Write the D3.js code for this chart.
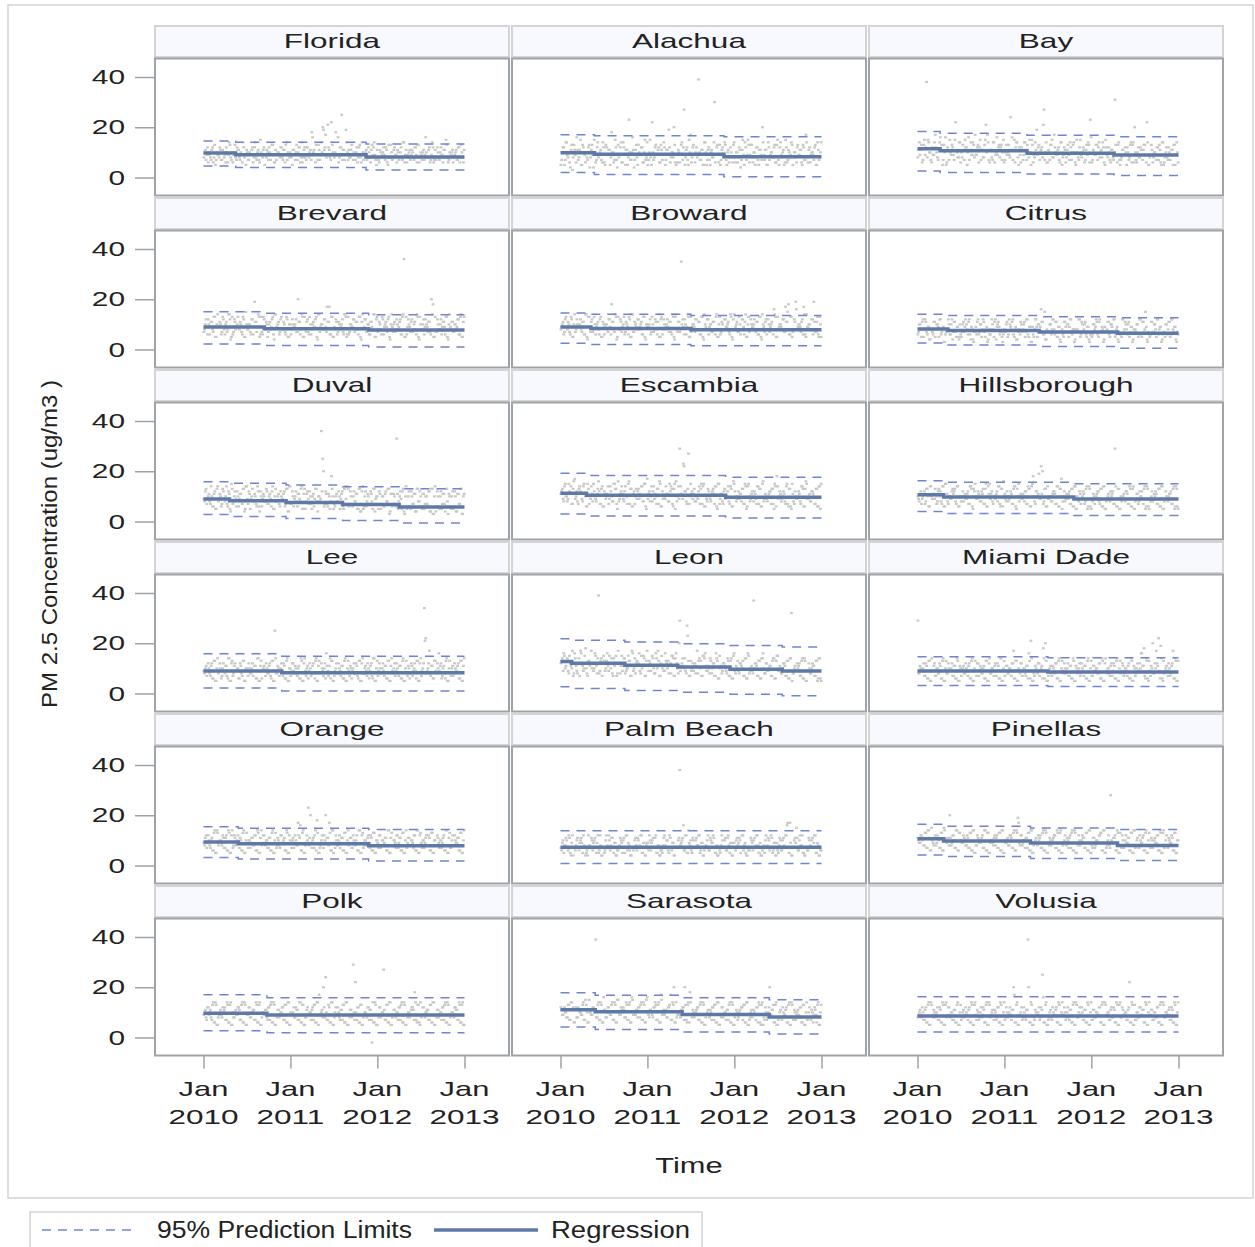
<!DOCTYPE html>
<html>
<head>
<meta charset="utf-8">
<script src="https://cdn.jsdelivr.net/npm/d3@7"></script>
<style>
  body { margin: 0; background: #fff; }
  text { font-family: "Liberation Sans", Arial, sans-serif; fill: #222; }
</style>
</head>
<body>
<svg id="chart" width="1255" height="1247"></svg>
<script>
// =============================
// PM 2.5 by county, 2010-2012
// =============================

const counties = [
    "Florida", "Alachua", "Bay",
    "Brevard", "Broward", "Citrus",
    "Duval", "Escambia", "Hillsborough",
    "Lee", "Leon", "Miami Dade",
    "Orange", "Palm Beach", "Pinellas",
    "Polk", "Sarasota", "Volusia"
];

// step changes of the fitted line (fractional years)
const regBreaks = [
    [2010.0, 2010.37, 2011.87, 2013.0],
    [2010.0, 2010.39, 2011.88, 2013.0],
    [2010.0, 2010.26, 2011.26, 2012.26, 2013.0],
    [2010.0, 2010.7, 2011.9, 2013.0],
    [2010.0, 2010.35, 2011.5, 2013.0],
    [2010.0, 2010.35, 2011.4, 2012.3, 2013.0],
    [2010.0, 2010.3, 2010.95, 2011.6, 2012.25, 2013.0],
    [2010.0, 2010.3, 2011.9, 2013.0],
    [2010.0, 2010.3, 2011.8, 2013.0],
    [2010.0, 2010.9, 2013.0],
    [2010.0, 2010.13, 2010.74, 2011.35, 2011.95, 2012.55, 2013.0],
    [2010.0, 2011.5, 2013.0],
    [2010.0, 2010.4, 2011.9, 2013.0],
    [2010.0, 2013.0],
    [2010.0, 2010.3, 2011.3, 2012.3, 2013.0],
    [2010.0, 2010.73, 2013.0],
    [2010.0, 2010.4, 2011.4, 2012.4, 2013.0],
    [2010.0, 2013.0]
];

const regLevels = [
    [9.8, 9.1, 8.2],
    [9.9, 9.3, 8.3],
    [11.4, 10.6, 9.7, 9.0],
    [9.0, 8.3, 7.8],
    [9.0, 8.4, 7.9],
    [8.2, 7.6, 7.0, 6.5],
    [9.0, 8.3, 7.6, 6.8, 5.8],
    [11.2, 10.4, 9.7],
    [10.6, 9.8, 9.0],
    [9.0, 8.3],
    [12.7, 12.0, 11.2, 10.5, 9.7, 9.0],
    [9.0, 8.6],
    [9.4, 8.7, 7.9],
    [7.3],
    [10.6, 9.8, 9.0, 8.0],
    [9.7, 9.0],
    [11.0, 10.2, 9.2, 8.2],
    [8.6]
];

const upperLevels = [
    [14.5, 14.0, 13.3],
    [17.0, 16.6, 16.2],
    [18.3, 17.6, 16.8, 16.2],
    [15.0, 14.4, 13.8],
    [14.5, 14.0, 13.5],
    [14.0, 13.5, 13.0, 12.6],
    [15.8, 15.2, 14.5, 13.8, 13.0],
    [19.2, 18.3, 17.6],
    [16.2, 15.6, 15.0],
    [15.8, 14.8],
    [21.8, 21.2, 20.5, 19.8, 19.1, 18.5],
    [14.6, 14.2],
    [15.4, 14.8, 14.3],
    [13.8],
    [16.4, 15.6, 14.9, 14.3],
    [17.0, 15.8],
    [17.8, 16.8, 15.8, 15.0],
    [16.2]
];

const lowerLevels = [
    [4.6, 4.0, 3.0],
    [2.0, 1.2, 0.3],
    [2.6, 2.0, 1.4, 0.8],
    [2.2, 1.6, 1.0],
    [2.5, 2.0, 1.5],
    [2.6, 1.8, 1.2, 0.5],
    [2.8, 2.0, 1.2, 0.4, -0.6],
    [3.0, 2.2, 1.4],
    [4.0, 3.2, 2.4],
    [2.2, 1.0],
    [2.7, 2.0, 1.2, 0.5, -0.3, -0.9],
    [3.2, 2.8],
    [3.2, 2.6, 1.8],
    [0.8],
    [4.2, 3.6, 2.8, 2.0],
    [2.7, 1.9],
    [4.2, 3.2, 2.2, 1.4],
    [2.2]
];

// daily readings over 2010-2012, two interleaved sets per county
// one character per reading: 0-9, a-z = 10-35, A-Z = 36+, _ = -2
const cloudCodesA = [
    "8b96a7c85a 9c7b86a9d7 6a8cb79e85 a79b6c8a7f 9b58ac7d96 7a9c8b6ea8 95b7dac86b 8c9a7gb69d 7ekbh9c8ma 8i96cpb7ja b8d79a6c8e 79b8a6dc95 86a9c7b58d 7b96a8c7e9 68b9a7c6d8 9a7g8b69c7 7c8a96bf87 8a69b7c8a6",
    "5ac7e86b3d 9g7b5da68c 4b9f6c8a7e 6d9b5ia7c4 8c6e9b5n7a b7d5a9c6f8 5a8m7c9b6d 7e5b9c8ak6 9b6d7r8c5a 6c9a8D7b5e a7c5b8u9d6 5b9e7a6c8d 8a6c4b9e7f 6d8a5c7b9k 9b5e7a8c6d 7c9a5f6b8e 5a8c9b6d7h 8b6a9c5e7a",
    "8eb6d9Cfa7 c9ha7eb5dg 6bf9c7ma8e ad7c5gb9e8 9c6fb8dlh7 b8e6a9dc7f 7da9ogb6e8 c6b9e7af5d 9ejc7b8ra6 b7d8ha9c6e 8c6b9e7da5 a7f8c6b9dn 6b9d7ea8c5 c8a6b7v9d7 7b9c5a8ed6 a6c8b7d9m5 8d6a9c7b5e 6a8c7b5d9a",
    "7a9c6b8d5a 9b6d8a7ec5 6c8a9b7d5f 8a7c6jb9d6 7d9b5a8c6e 9a6c8b7d5a 6c9a7kb8d5 8b7d6a9c5e 7a8c9hb6d5 9c6b8a7ed6 6a9c7b8d5b 8c7a6b9e5c 7b8d6a9c5a 9a7c8b6dA5 6c9b7a8e5d 8a6c9b7ki5 7c8a6b9d5a 9b7a8c6d5b",
    "8a6c9b7d5a 7c9a8b6e5d 9b7d6a8c5b 6a8c9ib7d5 8c7a6b9d5e 7b9c8a6d5a 9a6d7c8b5c 6c8a9b7e5d 8b7zc6a9d5 7a9c8b6d5e 9c6a7b8d5a 6b8c9a7e5c 8a7d6c9b5a 7c9a8b6d5e 9b6c7a8gd5 8a9c7hbi6d 7cj8a9b6e5 9a8c6b7d5a",
    "6a8b5c7948 7b5a9c6836 8c6a4b795a 5a7c8b6947 9b6a5c7838 6c8b4a9756 7a5c9b6848 8b7a5c6939 5c9a7gb648 7a6c8b5947 6b9a5c7838 8c5b7a6946 5a8c6b7939 7b6a9c5847 6c7b8a5938 8a5c6b7f47 5b7a8c6936 7a6b5c8947",
    "9c7a8e6b5d 8b6d9a7c5f 7a9c6b8d4e 9c5a8b7e6c 6b8d7a9c5a 8a7c9b6d4e 7c6a8b9d5b 5b9c7a6d8a 8Ap6c7b5ia 7a8c5b6d9e 6c7a8b5d4c 5a6b7c8d4a 7c5a6b8d3b 6b7x5a9c4a 5a6c7b4d8c 6b5a7c4d3a 4c6a5b7d8b 6a5c4b7d3a",
    "bd8fa9ce7g 9c7eb8fa6d ae8c9bg7d6 c9b7ea8fd5 8be9ca7gd6 b7dc9ae8f5 9ca8eb7dg6 ca9b8fe7d5 8etb9mc7ra b9d8ac7fe6 a8c9bd7e5f 9b7dac8e6g c8a9bd7f5e a9c8b7ed6f 8b9ac7d5ei 9c8ab7f6d5 b7a9c8ed6g 9a8cb7d6e5",
    "a8c9b7da6e 9bd7ca8e6f b7a9dc8e6a 8ca9b7ed5c a9b8cd7f6b 9c7ab8e6dg b8a9c7de5a 8b9ac7ed6f a7cb9mk8d6 9a8bc7e6dh 8c9ab7d6e5 a8b9c7d5e6 9b7ac8d6e5 8a9cb7t6d5 a9b8c7e6d5 8b7ca9d5e6 9a8bc7d6e5 8c9ab7d5e6",
    "9a7c8b6d5a 8c6a9b7e5c 7b9a6c8d5a 9c8a7b6e5b 6a9c8b7d5p 8b7a9c6d5a 7c9b8a6e5c 9a6c7b8d5b 8c9a6b7ed5 7a8c9b6d5a 9b6a8c7d5c 8a9c6b7e5a 7c8a9b6d5b 9a7c8b6d5a 8b6c7a9d5c 7aym9c8b6d 9cgb6a8d5a 8a7c9b6d5b",
    "cegad9fbh8 e9c7gbai8d bhcaf8D9ec dag9ce7bf8 c8fbe9ad7h 9ecbg8af7d bd9fa8eh7c a9gcdb8f7e c8tbea9rd7 9cb8hda7fe b9ae8c7gd6 a8cb9e7d6f 9bd8ca7e6g 8a9Bcb7d6e a8c9b7de6f 9b8ac7d6ew 8a9cb7d6e5 9c8ab7d5e6",
    "t8a9c7b6d5 9b7a8c6d5a 8c9a7b6e5b 7a8c9b6d5a 9c7b8a6d5c 8a9b7c6e5a 7b8a9ch6d5 9c7a8b6dl5 8b9c7a6ek5 7a8b9c6d5a 9c8a7b6e5b 8a7c9b6d5a 7b9a8c6e5c 9a8b7c6d5a 8c7a9b6e5b 7a9cgbi6d5 9bk8acm6e5 8a9c7bh6d5",
    "9b7c8a6d5e 8a9c7b6e5c 7c8a9b6d5a 9a7b8c6e5b 8c9a7b6d5a 7b8c9a6e5c 9a7c8hb6d5 8cnb9a7ei5 7a9ckb8d6e 9c8a7b6d5a 8b7c9a6e5c 7a8b9c6d5a 9c7a8b6e5b 8a9c7b6d5a 7b8a9c6e5c 9a7b8c6d5a 8c9a7b6e5b 7a8c9b6d5a",
    "7958a6b4c7 6a79b5846c 8b6a795c47 5a8c6b7946 7b9a5c6847 6a8b7c5948 9c6a7b5846 5b8a6c7947 7aC9b6c5e8 6b7a8c5946 8a6b9c7547 5c7a6b8949 7a8b5c6947 6b9a7c8546 8a7b6c5949 5b6a8cg7h4 7a9b6c8547 6b8a7c5946",
    "b9ca8d7eb6 a8c9b7d6fa 9bk8ca7e6d a9b8c7d6e5 8ca9b7e6d5 9a8cb7d6e5 a9b8c7d6ej 9c8a7bd6e5 8a9cb7d6e5 9b8ac7e6d5 8a9b7cd6e5 9c8ab7d6e5 8b7a9cd6e5 7a8s9bc6d5 8c7a9b6d5e 7a8c9b6d5a 8b7a9c6e5d 7a8b9c6d5a",
    "9b7ca8d6e5 8a9cb7e6d5 a8b9c7d6e5 9c8ab7e6d5 8a9b7cd6e5 9b8ac7d6e5 a9c8b7e6d5 8b9a7cd6e5 9a8co7d6e5 8c9a7bd6e5 9b8t7ac6d5 8a9c7b_6e5 9c8ar7d6e5 8b9a7cd6e5 9a8bc7e6d5 8c9ab7d6e5 9b8a7cd6e5 8a9cb7e6d5",
    "c9ba8d7eb6 b8ca9d7fa6 a9cbD8e7d6 b8ac9d7e6f a9bc8e7d6g 9ab8cd7e6f a8b9ce7d6h 9ba8cd7ek6 8a9bc7d6ei 9b8ac7d6e5 8a9b7cd6e5 9c8a7bd6e5 8b7a9cd6e5 7a8b9c6d5e 8c7ak9b6d5 7a8c9b6d5e 8b7a9c6d5a 7a8b6c9d5a",
    "8a9c7b6d5e 9b8a7c6e5d 8c9a7b6d5a 7a8c9b6e5d 9b7a8c6d5e 8a9b7c6e5a 7c8a9bk6d5 9a7c8bD6e5 8b9a7cp6d5 7a8c9b6e5a 9c7a8b6d5e 8a9c7b6e5a 7b8a9c6d5e 9a7b8c6e5d 8c9a7bm6d5 7a8c9b6e5a 9b7a8c6d5e 8a9b7c6e5a"
];

const cloudCodesB = [
    "a7c98b6d79 8b7a9c6e8a 9d7b8a6c9b 7a9c8e7b6a 8c9b7a9d6b 9a8c7bd79a 8b9a7c6e8c 7c8bia9d7b 9ajc8lb7d9 a9g8c7b9e7 8b9a7c8d6a 9a7c8b9e7b 7b8a9c6d8a 8c9b7a8e6b 9a7b8c9d6a 7b9a8c7e6b 8a7c9b8d6a 9b8a7c6d8b",
    "7c5e9a4d8b 6b8f5c9a7d 8d4a7e9b6c 5c9b8a6f7d 9e6c5b8a7g 4b8d9c6a7e 7f5a8d9c6b 9c7bj6a8d5 6a9ec5b7fh 8d6c9a7b5e 5b7a8e6c9d 7c9d5b8a6e 6a8b7f5c9d 9d6a8c5b7e 7b5c9a8d6f 5e8b6c7a9d 8a6d9b5c7e 6c9a7d5b8e",
    "b9d7fc8ea6 9ec8bgd7a5 c7ad9fb8e6 8bfca7e9dh 9dc7b8fae6 b7e9gc8da6 a9d8b7fce5 9c7ebd8af6 8b9dacl7e6 adf8c9b7e5 9b8d7cae6f 8c9ab7de6g 7a9dc8be6f 9c7b8ad6e5 8b9ac7d6ek 7a8c9bd6e5 9b8a7cd6e5 8c7a9bd5e6",
    "8c6a9b7d5e 9a7c6b8e4d 7b9d8a6c5a 8a6c9b7e5d 6c8a7b9d4e 9b7d8a6c5a 8a9c7b6e5d 7c6a8b9d4e 9a8c7bh6d5 8b7a9c6e5d 7a9c8b6d4e 9c7a6b8e5d 8a6c9b7d4e 7b8a9c6e5d 9a7c8b6d4a 8c9a7b6e5d 7a8c9b6d4e 8b7a9c6e5d",
    "9b7d8a6c5e 8a9c7b6e4d 7c8a9b6d5a 9a7c6b8e4d 8b9d7a6c5e 7a8c9b6d4a 9c7a8b6e5d 8a9c7b6d4e 7b8a9c6e5d 9a7c8b6d4a 8c9a7b6e5d 7a8c9b6d4e 9b7a8c6e5d 8a9c7b6d4a 7c8a9b6e5d 9a8c7bf6d5 8bg9a7ch6e 9a8cj7b6d5",
    "7a5c8b6948 6b8a5c7937 8a6c7b5946 7b9a6c4837 6c7a8b5946 8a5c9b6738 7b6a8c5947 6a8b7c5936 8c5a9b6f47 7a8c6b5938 5b7a9c6847 7c6a8b5936 6a9b5c7847 8b5a7c6936 5c8a6b7947 7a6c5b8936 6b7a5c8947 5a8b6c7936",
    "8d9b7a6c5e 9a7c8e6b4d 8c6a9b7d5e 7b9d8a6c4a 9a8c7b6e5d 8b6a9c7d4e 7a9c6b8e5d 8c7a5b9d4a 9ck7b6a8d5 6b8a9c5e7d 7a6c8b5d4e 6c8a7b5d9a 5b7a6c8d4b 7a6b8c5d3e 6c5a7b4d8a 5b7a6c4d3e 6a5c7b4d3a 5c6a4b7d3b",
    "c9ea8fb7dh a8dc9eb6f7 9bfa8dc7e6 bae9c8fd7g 9cb8eaf7d6 ca9dbe8f6h b8ec9ad7f6 9aeb8cd6fg a9ebnc8d7f cb8a9ed7f6 9da8cbe6f7 b8c9ae7d6f a9cb8d7e6f 8bac9e7d6g 9a8bcd7f6e ab9c8e7d6f 8c9ab7e6df 9b8ca7d6ef",
    "9b7ac8d6ea b9a8dc7e6f 8a9cbd7e6a a8b9c7e6df 9ca8b7d6ef b8a9ce7d6a 9c8ab7e6df a9b8c7d6ei 8caj9b7d6e 9a8cb7e6d5 a8b9c7d6e5 9c7ab8e6d5 8a9bc7d6e5 9b8ac7e6d5 8a9cb7d6e5 9b8ac7e6d5 8c9ab7d6e5 9a8bc7e6d5",
    "8b9a7c6d5e 9a7c8b6e5d 8c9a6b7d5a 7a8c9b6e5d 9b7a8c6d5e 8a9c7b6e5a 9c8a7b6d5e 7b9a8c6e5d 8a7cg9b6d5 9c8a7b6e5d 7a9c8b6d5e 8b7a9c6e5d 9a8c7b6d5e 8c9a7b6e5d 7a8b9c6d5e 9cl8ah7b6d 8a9c7b6e5d 7b8a9c6d5e",
    "d9fbe8ca7g b8ehc9fa7d ca9gbe8d7f 9dbfa8ec7h cb9e8afd7g a8dc9fbe7h 9cbe8gad7f b9da8cfe7g ak9cbe8n7d a9cb8ed7fg 9b8dac7e6f b9ca8d7e6g 8a9cbd7e6f 9b8ac7d6eg 8c9ab7e6df 9a8cb7d6e5 8b9ac7e6d5 9a8cb7d6e5",
    "8b9a7c6d5e 9c7a8b6e5d 8a9c7b6d5a 9b8a7c6e5d 7c9a8b6d5e 8a7c9b6e5d 9b8a7c6d5a 8c9a7bg6e5 7a8c9bi6d5 9b7a8c6e5d 8a9c7b6d5a 9c8a7b6e5d 7b9a8c6d5e 8a7c9b6e5d 9b8a7c6d5a 8c9agb7e6d 7a8chb9j6d 9b7a8c6e5d",
    "8c9a7b6e5d 9a8b7c6d5e 8b9c7a6e5d 7a9b8c6d5e 9c8a7b6e5d 8a7c9b6d5a 7b9a8cg6e5 9a8k7bc6d5 8c7a9bh6e5 7a8c9b6d5e 9b7a8c6e5d 8a9c7b6d5a 7c8a9b6e5d 8a7c9b6d5e 9b8a7c6e5d 7a9c8b6d5a 8b7a9c6e5d 7c8a9b6d5e",
    "6a8b7c5947 8b6a9c7548 7a9b5c6847 6c7a8b5946 8a5b7c9647 7b6a8c5949 6a9b7c5846 8c7a5b6947 7b8ag6c59a 5a7b8c6947 7c6a9b5846 8a7b6c5949 6b9a7c8546 7a6b8c5947 5c8a7b6946 8a6b7ch594 7bf6a8c547 6a7b9c5846",
    "a9cb8d7e6f 9b8ca7d6eb a8b9c7e6da 9ca8b7d6e5 8b9ac7e6d5 a9b8c7d6e5 9a8cb7e6dh 8c9ab7d6e5 9b8ac7e6d5 8a9bc7d6e5 9c8ab7e6d5 8a9cb7d6e5 7b8a9cd6e5 8c7a9b6e5d 7a8c9b6d5e 8b7a9c6e5d 7a8b9c6d5e 8c7a9b6d5a",
    "a8c9b7e6d5 9b8ac7d6e5 8a9cb7e6d5 9c8ab7d6e5 a9b8c7e6d5 8b9ac7d6e5 9a8cb7e6d5 8c9ab7d6eh 9bk8a7c6e5 a9c8b7d6e5 8b9am7c6d5 9a8cb7e6d5 8c9ab7d6e5 9b8ac7e6d5 8a9cbi7d6e 9c8ab7d6e5 8b9ac7e6d5 9a8cb7d6e5",
    "b9ca8d7ec6 c8ba9e7d6f a9cb8d7e6g b8ca9e7d6f 9cab8d7e6f a9bc8e7d6g 9ba8cd7e6f a9b8ch7d6e 9a8bck7d6e 8a9bc7e6d5 9b8ac7d6e5 8c9ab7e6d5 9a8bc7d6e5 8b9a7ce6d5 7a8c9bd6e5 8b7a9c6e5d 7a9b8c6d5e 8c7a9b6e5d",
    "9b8a7c6e5d 8a9c7b6d5e 9c8a7b6e5d 8b9a7c6d5e 7a8c9b6e5d 9b7a8c6d5e 8a9c7bh6e5 9c8a7bk6d5 7a9c8bg6e5 8b7a9c6d5e 9a8c7b6e5d 8c9a7b6d5e 7b8a9c6e5d 9a7c8b6d5e 8b9a7c6e5d 7a8c9b6d5e 9b7a8c6e5d 8a9c7b6d5e"
];

const yTicks = [0, 20, 40];
const xTickYears = [2010, 2011, 2012, 2013];

// =============================
// Layout
// =============================
const colX = [155, 512, 869];
const panelW = 354;
const rowStep = 172;
const headTop = 26, headH = 31;
const plotTop = 58.5, plotH = 137;

const svg = d3.select("#chart");

function yearToDate(y) {
    const yr = Math.floor(y);
    const a = new Date(yr, 0, 1), b = new Date(yr + 1, 0, 1);
    return new Date(+a + (y - yr) * (b - a));
}

function decode(code) {
    const out = [];
    for (const ch of code.replace(/\s+/g, "")) {
        if (ch === "_") out.push(-2);
        else if (ch >= "A" && ch <= "Z") out.push(36 + ch.charCodeAt(0) - 65);
        else out.push(parseInt(ch, 36));
    }
    return out;
}

// interleave the two reading sets into one evenly spaced series
function readings(i) {
    const a = decode(cloudCodesA[i]), b = decode(cloudCodesB[i]);
    const out = [];
    a.forEach((v, j) => { out.push(v); if (j < b.length) out.push(b[j]); });
    return out;
}

function stretch(sel, k) {
    sel.each(function () {
        const n = this.getComputedTextLength();
        d3.select(this).attr("textLength", n * k).attr("lengthAdjust", "spacingAndGlyphs");
    });
}

const x = d3.scaleTime()
    .domain([new Date(2010, 0, 1), new Date(2013, 0, 1)])
    .range([48.5, 309.5]);

const y = d3.scaleLinear()
    .domain([0, 40])
    .range([119, 18.5]);

const dataStart = +new Date(2010, 0, 1);
const dataEnd = +new Date(2013, 0, 1);

const stepLine = d3.line()
    .x(d => x(d[0]))
    .y(d => y(d[1]))
    .curve(d3.curveStepAfter);

function stepPoints(breaks, levels) {
    const pts = levels.map((v, i) => [yearToDate(breaks[i]), v]);
    pts.push([yearToDate(breaks[breaks.length - 1]), levels[levels.length - 1]]);
    return pts;
}

// outer frame
svg.append("rect")
    .attr("x", 8).attr("y", 5).attr("width", 1245).attr("height", 1193)
    .attr("fill", "none").attr("stroke", "#d3d3d3").attr("stroke-width", 1.5);

counties.forEach((name, i) => {
    const col = i % 3, row = Math.floor(i / 3);
    const px = colX[col];
    const hy = headTop + row * rowStep;
    const py = plotTop + row * rowStep;

    // header strip
    svg.append("rect")
        .attr("x", px).attr("y", hy).attr("width", panelW).attr("height", headH)
        .attr("fill", "#f8f9fe").attr("stroke", "#d4d4d4").attr("stroke-width", 2);

    svg.append("text")
        .attr("x", px + panelW / 2).attr("y", hy + 22)
        .attr("text-anchor", "middle")
        .attr("font-size", 21)
        .text(name)
        .call(stretch, 1.5);

    const g = svg.append("g").attr("transform", `translate(${px},${py})`);

    // scatter cloud
    const vals = readings(i);
    const n = vals.length;
    g.append("g")
        .selectAll("rect")
        .data(vals)
        .enter()
        .append("rect")
        .attr("x", (d, j) => x(new Date(dataStart + (j + 0.5) / n * (dataEnd - dataStart))) - 1.4)
        .attr("y", d => y(d) - 1.1)
        .attr("width", 2.8)
        .attr("height", 2.2)
        .attr("fill", "#c8c8c8");

    // prediction limits
    [upperLevels[i], lowerLevels[i]].forEach(lv => {
        g.append("path")
            .attr("d", stepLine(stepPoints(regBreaks[i], lv)))
            .attr("fill", "none")
            .attr("stroke", "#6f84d4")
            .attr("stroke-width", 1.5)
            .attr("stroke-dasharray", "9,7");
    });

    // regression
    g.append("path")
        .attr("d", stepLine(stepPoints(regBreaks[i], regLevels[i])))
        .attr("fill", "none")
        .attr("stroke", "#5d79a8")
        .attr("stroke-width", 3.5);

    // plot frame
    g.append("rect")
        .attr("x", 0).attr("y", 0).attr("width", panelW).attr("height", plotH)
        .attr("fill", "none").attr("stroke", "#9ea3a8").attr("stroke-width", 2);

    // y axis on the first column
    if (col === 0) {
        const ay = g.append("g")
            .call(d3.axisLeft(y).tickValues(yTicks).tickSize(20).tickPadding(10).tickFormat(d3.format("d")));
        ay.select(".domain").remove();
        ay.selectAll("line").attr("stroke", "#9ea3a8").attr("stroke-width", 1.5);
        ay.selectAll("text")
            .attr("font-size", 21)
            .attr("font-family", "Liberation Sans, Arial, sans-serif")
            .attr("fill", "#222")
            .call(stretch, 1.42);
    }

    // x axis on the last row
    if (row === 5) {
        const ticks = xTickYears.map(yr => new Date(yr, 0, 1));
        const ax = g.append("g")
            .attr("transform", `translate(0,${plotH})`)
            .call(d3.axisBottom(x).tickValues(ticks).tickSize(13).tickFormat(""));
        ax.select(".domain").remove();
        ax.selectAll("line").attr("stroke", "#9ea3a8").attr("stroke-width", 1.5);

        const lab = g.append("g").attr("transform", `translate(0,${plotH})`);
        lab.selectAll("text.mon")
            .data(ticks)
            .enter()
            .append("text")
            .attr("x", d => x(d)).attr("y", 40)
            .attr("text-anchor", "middle")
            .attr("font-size", 21)
            .text("Jan")
            .call(stretch, 1.47);
        lab.selectAll("text.yr")
            .data(ticks)
            .enter()
            .append("text")
            .attr("x", d => x(d)).attr("y", 68)
            .attr("text-anchor", "middle")
            .attr("font-size", 21)
            .text(d => d.getFullYear())
            .call(stretch, 1.5);
    }
});

// axis titles
svg.append("text")
    .attr("x", 689).attr("y", 1173)
    .attr("text-anchor", "middle")
    .attr("font-size", 22)
    .text("Time")
    .call(stretch, 1.4);

svg.append("text")
    .attr("transform", "translate(57,544) rotate(-90)")
    .attr("text-anchor", "middle")
    .attr("font-size", 22)
    .attr("textLength", 328)
    .attr("lengthAdjust", "spacingAndGlyphs")
    .text("PM 2.5 Concentration (ug/m3 )");

// legend
const leg = svg.append("g");
leg.append("rect")
    .attr("x", 30).attr("y", 1212).attr("width", 672).attr("height", 50)
    .attr("fill", "#fff").attr("stroke", "#d3d3d3").attr("stroke-width", 1.5);
leg.append("line")
    .attr("x1", 42).attr("x2", 137).attr("y1", 1230).attr("y2", 1230)
    .attr("stroke", "#6f84d4").attr("stroke-width", 1.5).attr("stroke-dasharray", "9,7");
leg.append("text")
    .attr("x", 157).attr("y", 1238)
    .attr("font-size", 23)
    .attr("textLength", 255).attr("lengthAdjust", "spacingAndGlyphs")
    .text("95% Prediction Limits");
leg.append("line")
    .attr("x1", 434).attr("x2", 538).attr("y1", 1230).attr("y2", 1230)
    .attr("stroke", "#5d79a8").attr("stroke-width", 3.5);
leg.append("text")
    .attr("x", 551).attr("y", 1238)
    .attr("font-size", 23)
    .attr("textLength", 139).attr("lengthAdjust", "spacingAndGlyphs")
    .text("Regression");
</script>
</body>
</html>
